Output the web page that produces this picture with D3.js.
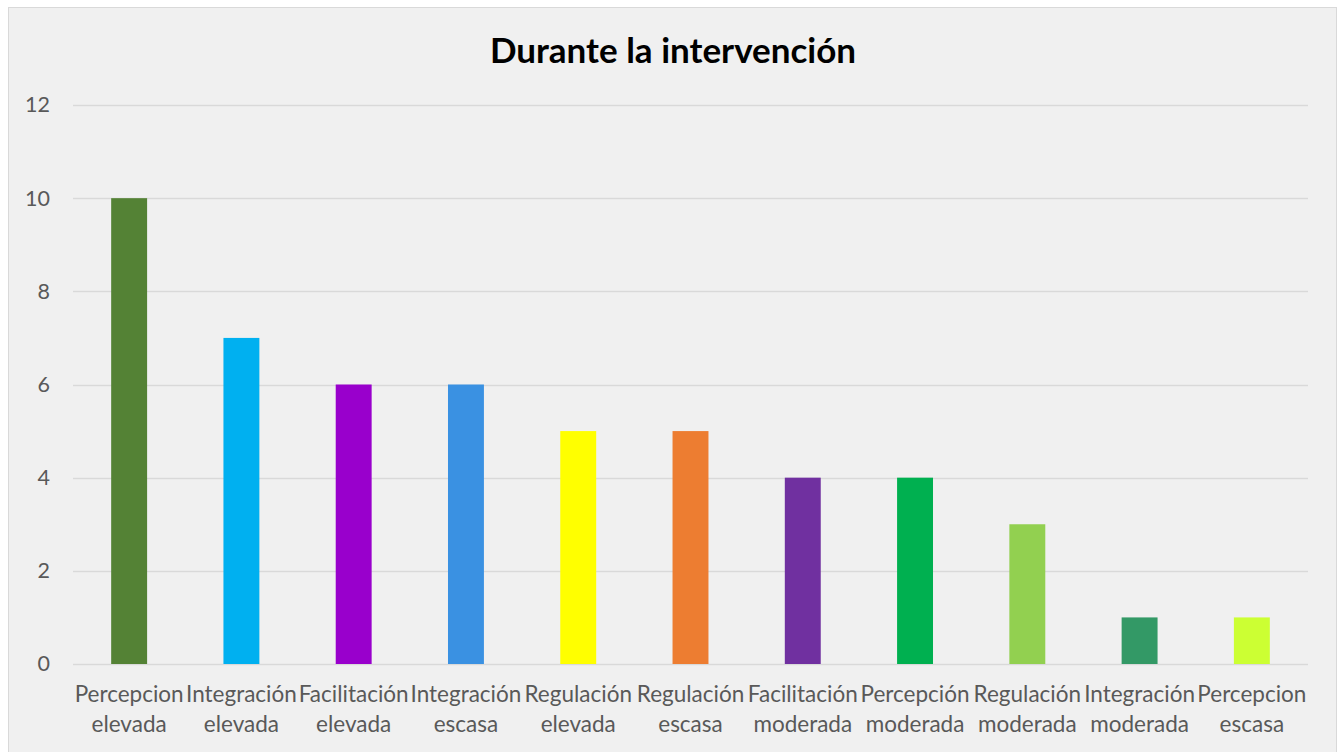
<!DOCTYPE html>
<html>
<head>
<meta charset="utf-8">
<script src="https://cdn.jsdelivr.net/npm/d3@7"></script>
<style>
  body { margin: 0; background: #fff; }
  svg { display: block; }
</style>
</head>
<body>
<div id="app"></div>
<script>
const categories = [
  ['Percepcion', 'elevada'], ['Integración', 'elevada'], ['Facilitación', 'elevada'],
  ['Integración', 'escasa'], ['Regulación', 'elevada'], ['Regulación', 'escasa'],
  ['Facilitación', 'moderada'], ['Percepción', 'moderada'], ['Regulación', 'moderada'],
  ['Integración', 'moderada'], ['Percepcion', 'escasa']
];
const values = [10, 7, 6, 6, 5, 5, 4, 4, 3, 1, 1];
const colors = ['#548235', '#00b0f0', '#9900cc', '#3a91e2', '#ffff00', '#ed7d31',
  '#7030a0', '#00b050', '#92d050', '#339966', '#ccff33'];
const yTicks = [0, 2, 4, 6, 8, 10, 12];

const W = 1338, H = 752;
const margin = { top: 105, right: 30, bottom: 88, left: 73 };
const font = 'Lato, "Open Sans", sans-serif';

const svg = d3.select('#app').append('svg')
  .attr('width', W)
  .attr('height', H);

// chart area background + border
svg.append('rect')
  .attr('x', 8.5).attr('y', 7.5)
  .attr('width', W - 10).attr('height', H)
  .attr('fill', '#f0f0f0')
  .attr('stroke', '#d9d9d9');

svg.append('text')
  .attr('x', 673)
  .attr('y', 63)
  .attr('text-anchor', 'middle')
  .style('font-family', font)
  .style('font-weight', 'bold')
  .style('font-size', '35px')
  .attr('fill', '#000')
  .text('Durante la intervención');

const keys = categories.map(d => d.join(' '));

const x = d3.scaleBand()
  .domain(keys)
  .range([margin.left, W - margin.right])
  .paddingInner(0.68)
  .paddingOuter(0.34);

const y = d3.scaleLinear()
  .domain([0, 12])
  .range([H - margin.bottom, margin.top]);

// gridlines
svg.append('g')
  .selectAll('line')
  .data(yTicks)
  .join('line')
  .attr('x1', margin.left)
  .attr('x2', W - margin.right)
  .attr('y1', d => Math.round(y(d)) + 0.5)
  .attr('y2', d => Math.round(y(d)) + 0.5)
  .attr('stroke', '#d9d9d9')
  .attr('stroke-width', 1.5);

// y axis labels
const yAxis = d3.axisLeft(y).tickValues(yTicks).tickSize(0).tickPadding(0);
const gy = svg.append('g')
  .attr('transform', 'translate(50,0)')
  .call(yAxis);
gy.select('.domain').remove();
gy.selectAll('text')
  .style('font-family', font)
  .style('font-size', '21.5px')
  .attr('fill', '#595959');

// bars
svg.append('g')
  .selectAll('rect')
  .data(values)
  .join('rect')
  .attr('x', (d, i) => x(keys[i]))
  .attr('y', d => y(d))
  .attr('width', x.bandwidth())
  .attr('height', d => y(0) - y(d))
  .attr('fill', (d, i) => colors[i]);

// x labels, two lines
const xl = svg.append('g')
  .selectAll('text')
  .data(categories)
  .join('text')
  .attr('x', (d, i) => x(keys[i]) + x.bandwidth() / 2)
  .attr('y', 702)
  .attr('text-anchor', 'middle')
  .style('font-family', font)
  .style('font-size', '22.5px')
  .attr('fill', '#595959');
xl.append('tspan')
  .attr('x', (d, i) => x(keys[i]) + x.bandwidth() / 2)
  .text(d => d[0]);
xl.append('tspan')
  .attr('x', (d, i) => x(keys[i]) + x.bandwidth() / 2)
  .attr('dy', 30)
  .text(d => d[1]);
</script>
</body>
</html>
